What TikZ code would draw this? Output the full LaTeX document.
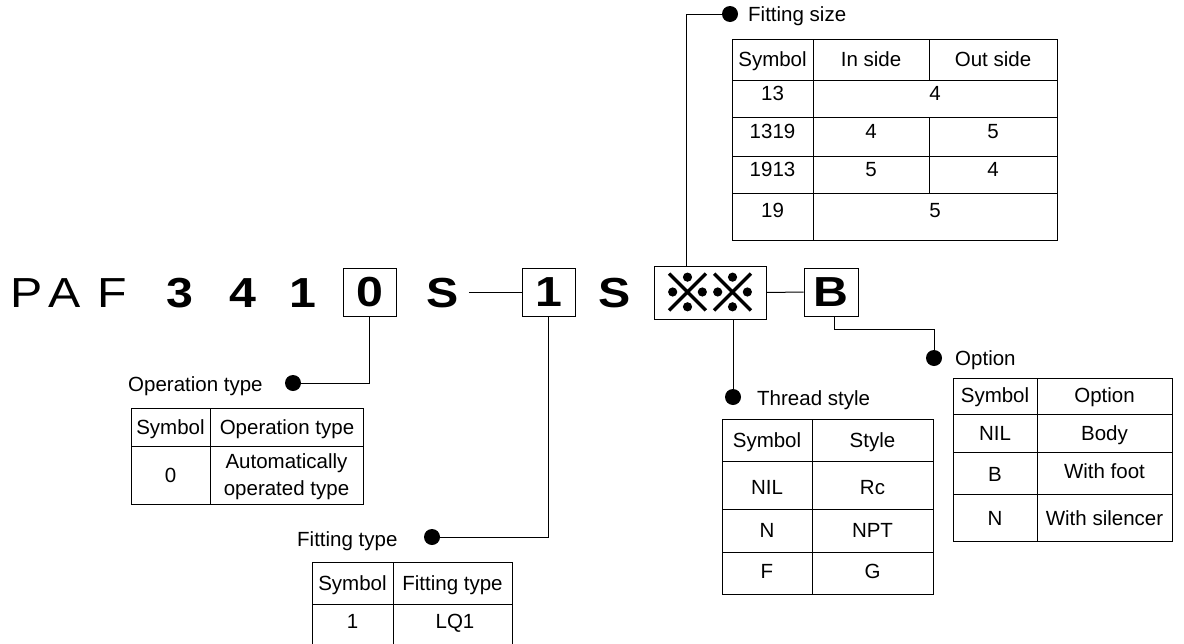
\documentclass[tikz,border=0pt]{standalone}
\usepackage{fontspec}
\setmainfont{Liberation Sans}
\newfontfamily\codefont[FakeStretch=1.15]{Liberation Sans}
\newfontfamily\markfont[FakeBold=2.5]{Noto Sans CJK JP}
\newcommand\cellsz{\fontsize{20.5}{24}\selectfont}
\newcommand\codesz{\fontsize{42}{48}\selectfont}
\begin{document}
\begin{tikzpicture}[x=1pt,y=-1pt,
  lbl/.style={inner sep=0pt, anchor=base west, font=\cellsz},
  cell/.style={inner sep=0pt, anchor=base, font=\cellsz},
  codeb/.style={inner sep=0pt, anchor=base, font=\codefont\codesz\bfseries},
  codereg/.style={inner sep=0pt, anchor=base, font=\codefont\codesz},
  codebox/.style={draw, line width=1pt, inner sep=0pt, minimum width=53pt, minimum height=48pt, font=\codefont\codesz\bfseries},
  dotn/.style={circle, fill=black, inner sep=0pt, minimum size=16pt},
  conn/.style={line width=1pt},
  grid/.style={line width=1pt}]
\fill[white] (0,0) rectangle (1184,643);
\useasboundingbox (0,0) rectangle (1184,643);

% ---- main code row
\node[codereg] (cP) at (26.5,307) {P};
\node[codereg] (cA) at (65,307) {A};
\node[codereg] (cF) at (112.5,307) {F};
\node[codeb] (c3) at (180,307) {3};
\node[codeb] (c4) at (242.5,307) {4};
\node[codeb] (c1) at (303,307) {1};
\node[codebox] (b0) at (369.5,292) {0};
\node[codeb] (sA) at (442.5,307) {S};
\node[codebox] (b1) at (548.5,292.5) {1};
\node[codeb] (sB) at (614.5,307) {S};
\node[codebox, minimum width=112pt, minimum height=53pt, font=\markfont\fontsize{52}{56}\selectfont] (xx) at (710,292.5) {※\kern-7pt※};
\node[codebox, minimum width=54pt] (bB) at (831,292) {B};

\draw[conn] ([xshift=10pt]sA.east |- b1.west) -- (b1.west);
\draw[conn] (xx.east) -- (bB.west);

% ---- dots and labels
\node[dotn] (dFs) at (730,14) {};
\node[dotn] (dOp) at (293,383) {};
\node[dotn] (dFt) at (432,537) {};
\node[dotn] (dTh) at (733,397) {};
\node[dotn] (dOpt) at (934,358) {};
\coordinate (kFs) at (686,14);
\coordinate (kOpt) at (934,329);

\draw[conn] (xx.north -| kFs) -- (kFs) -- (dFs);
\draw[conn] (b0.south) |- (dOp);
\draw[conn] (b1.south) |- (dFt);
\draw[conn] (xx.south -| dTh) -- (dTh);
\draw[conn] ([xshift=3pt]bB.south) |- (kOpt) -- (dOpt);

\node[lbl] (lFs) at (748,21.5) {Fitting size};
\node[lbl] (lOp) at (128,391) {Operation type};
\node[lbl] (lFt) at (297,546) {Fitting type};
\node[lbl] (lTh) at (757,405) {Thread style};
\node[lbl] (lOpt) at (955,365) {Option};

% ---- Fitting size table
\draw[grid] (732,39) rectangle (1057,240);
\foreach \yy in {80,117,156,193} \draw[grid] (732,\yy) -- (1057,\yy);
\draw[grid] (813,39) -- (813,240);
\draw[grid] (929,39) -- (929,80);
\draw[grid] (929,117) -- (929,193);
\node[cell] (fs00) at (772.5,66.5) {Symbol};
\node[cell] (fs01) at (871,66.5) {In side};
\node[cell] (fs02) at (993,66.5) {Out side};
\node[cell] (fs10) at (772.5,100.5) {13};
\node[cell] (fs11) at (935,100.5) {4};
\node[cell] (fs20) at (772.5,138.5) {1319};
\node[cell] (fs21) at (871,138.5) {4};
\node[cell] (fs22) at (993,138.5) {5};
\node[cell] (fs30) at (772.5,176.5) {1913};
\node[cell] (fs31) at (871,176.5) {5};
\node[cell] (fs32) at (993,176.5) {4};
\node[cell] (fs40) at (772.5,217.5) {19};
\node[cell] (fs41) at (935,217.5) {5};

% ---- Operation type table
\draw[grid] (131,408) rectangle (363,504);
\draw[grid] (131,446) -- (363,446);
\draw[grid] (210,408) -- (210,504);
\node[cell] (op00) at (170.5,434) {Symbol};
\node[cell] (op01) at (287,434) {Operation type};
\node[cell] (op10) at (170.5,482) {0};
\node[cell] (op11) at (286.5,468) {Automatically};
\node[cell] (op12) at (286.5,495) {operated type};

% ---- Fitting type table
\draw[grid] (312,562) rectangle (512,652);
\draw[grid] (312,604) -- (512,604);
\draw[grid] (393,562) -- (393,652);
\node[cell] (ft00) at (352.5,590.5) {Symbol};
\node[cell] (ft01) at (452.5,590.5) {Fitting type};
\node[cell] (ft10) at (352.5,628) {1};
\node[cell] (ft11) at (455,628) {LQ1};

% ---- Thread style table
\draw[grid] (722,419) rectangle (933,594);
\foreach \yy in {461,509,552} \draw[grid] (722,\yy) -- (933,\yy);
\draw[grid] (812,419) -- (812,594);
\node[cell] (th00) at (767,447) {Symbol};
\node[cell] (th01) at (872.5,447) {Style};
\node[cell] (th10) at (767,494) {NIL};
\node[cell] (th11) at (872.5,494) {Rc};
\node[cell] (th20) at (767,537.5) {N};
\node[cell] (th21) at (872.5,537.5) {NPT};
\node[cell] (th30) at (767,578.5) {F};
\node[cell] (th31) at (872.5,578.5) {G};

% ---- Option table
\draw[grid] (953,378) rectangle (1172,541);
\foreach \yy in {414,452,494} \draw[grid] (953,\yy) -- (1172,\yy);
\draw[grid] (1037,378) -- (1037,541);
\node[cell] (ot00) at (995,402.5) {Symbol};
\node[cell] (ot01) at (1104.5,402.5) {Option};
\node[cell] (ot10) at (995,440.5) {NIL};
\node[cell] (ot11) at (1104.5,440.5) {Body};
\node[cell] (ot20) at (995,481) {B};
\node[cell] (ot21) at (1104.5,478) {With foot};
\node[cell] (ot30) at (995,525.5) {N};
\node[cell] (ot31) at (1104.5,525.5) {With silencer};
\end{tikzpicture}
\end{document}
